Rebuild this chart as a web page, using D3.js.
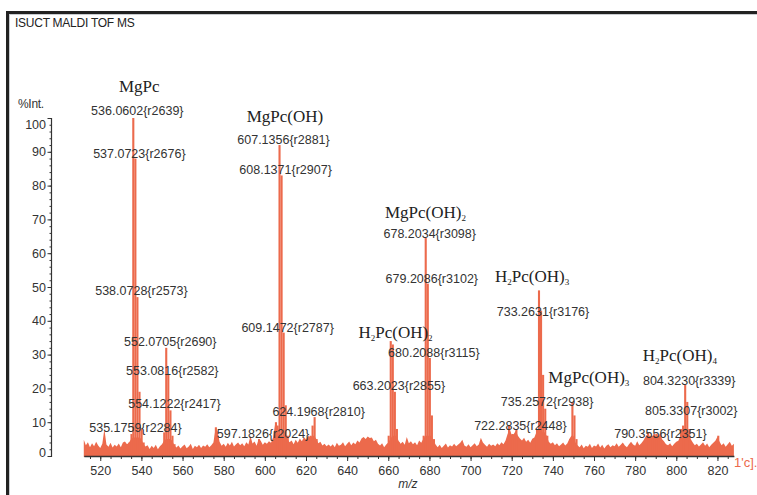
<!DOCTYPE html>
<html>
<head>
<meta charset="utf-8">
<script src="https://cdn.jsdelivr.net/npm/d3@7"></script>
<style>
  html, body { margin: 0; padding: 0; background: #fff; }
  svg { display: block; }
</style>
</head>
<body>
<svg id="chart" width="757" height="495"></svg>
<script>
// ---- spectrum data (m/z, %Int.) ----
// baseline signal, one value per m/z unit starting at noiseStart
const noiseStart = 512;
const noise = [
  4.8,3.2,4.1,2.6,3.8,2.9,4.2,3.1,2.4,3.6,8.0,3.4,2.7,3.9,2.5,3.3,2.8,3.7,2.6,4.0,
  4.3,3.5,4.0,5.0,5.5,5.5,5.5,5.5,5.0,3.5,2.8,3.2,2.1,3.0,2.4,3.3,2.0,2.9,3.5,4.5,
  5.0,5.0,5.0,4.5,3.2,2.5,3.1,2.2,2.9,3.4,2.3,2.8,3.6,2.1,3.0,2.6,3.3,2.4,3.1,2.7,
  3.5,2.6,3.2,4.0,8.0,7.5,4.2,3.0,3.6,2.7,3.9,3.1,4.2,2.8,3.5,4.0,3.2,3.8,2.9,4.1,
  3.4,6.0,3.7,4.3,3.0,5.0,4.5,3.3,4.1,3.6,4.4,3.9,5.5,9.5,9.0,6.0,6.0,6.0,6.0,5.0,
  4.1,4.6,3.5,4.8,3.9,5.2,4.4,5.6,4.9,6.0,5.5,6.0,6.0,5.0,3.8,4.2,3.1,3.6,2.9,3.4,
  2.8,3.5,2.6,3.9,3.0,3.3,4.1,2.9,3.6,4.3,3.2,4.0,3.5,4.6,4.0,5.2,5.6,5.0,5.8,5.3,
  5.5,4.4,4.8,3.6,3.1,3.8,2.6,3.4,4.0,5.0,6.0,6.0,6.0,4.5,3.6,4.2,3.3,5.6,3.8,4.4,
  3.5,4.1,3.2,4.6,3.9,5.0,6.0,6.0,6.0,6.0,4.6,3.4,2.6,3.3,2.4,3.0,3.7,2.5,3.2,2.8,
  3.6,2.9,3.4,3.9,4.8,3.1,2.7,3.5,2.6,3.2,3.8,2.9,3.4,5.4,4.0,3.3,2.7,3.6,3.0,3.4,
  2.9,3.8,3.2,4.1,3.5,4.6,6.5,8.0,6.2,6.5,7.5,6.0,5.2,4.6,5.4,4.2,4.8,3.9,5.1,5.5,
  7.0,7.0,7.0,7.0,7.0,6.0,4.2,3.6,4.1,3.2,3.8,2.9,3.4,4.0,3.1,3.7,5.0,6.0,6.0,4.0,
  3.2,2.6,3.4,2.3,3.0,2.7,3.6,2.4,3.1,2.8,3.7,2.5,3.3,2.2,3.0,3.5,2.6,3.2,2.9,3.8,
  2.7,3.3,4.0,3.1,2.6,3.5,4.2,3.4,3.0,4.4,3.2,3.8,4.6,5.6,6.5,6.0,5.5,6.2,6.0,5.5,
  6.2,5.0,4.4,3.5,3.2,3.8,2.9,3.6,4.2,4.5,6.0,7.5,8.0,8.0,7.0,5.0,4.0,3.2,3.6,2.8,
  3.4,4.1,3.0,3.7,2.6,3.3,3.9,4.5,5.7,4.3,3.2,3.8,2.7,3.5,4.2,3.0,3.6
];

// isotopic peaks
const peakMz = [
  534.2, 535.18, 536.06, 537.07, 538.07, 539.08, 540.1, 541.1,
  551.1, 552.07, 553.08, 554.12, 555.1, 556.1,
  576.2, 597.18,
  605.4, 606.2, 607.14, 608.14, 609.15, 610.15, 611.15,
  622.2, 623.2, 624.2, 625.2,
  660.2, 661.2, 662.2, 663.2, 664.2, 665.2,
  677.2, 678.2, 679.21, 680.21, 681.2, 682.2,
  718.7, 720.3, 722.28,
  732.3, 733.26, 734.26, 735.26, 736.3, 737.3,
  748.5, 749.5, 750.5, 751.5,
  786.3, 788.3, 789.3, 790.36, 791.3, 792.3,
  802.3, 803.3, 804.32, 805.33, 806.3, 807.3,
  820.4
];
const peakInt = [
  4, 6.5, 100, 88, 47, 19, 8, 4,
  7, 32, 24, 13.5, 6, 3.5,
  8.5, 5,
  10, 9, 92, 83, 36.5, 15, 6,
  6, 9, 11.5, 5,
  6, 34, 33, 19, 8, 4,
  6, 64.5, 51, 29, 12, 5,
  9, 6.5, 8,
  8, 49, 43, 24, 14, 6,
  5, 16, 12, 5,
  7, 6, 6.5, 6.5, 6, 6.5,
  8, 9, 21, 16, 8, 4,
  6
];

// peak annotations: m/z, resolution, level of the label baseline (%Int.)
const labelMz = [536.0602, 537.0723, 538.0728, 552.0705, 553.0816, 554.1222, 535.1759,
  597.1826, 607.1356, 608.1371, 609.1472, 624.1968, 678.2034, 679.2086, 680.2088,
  663.2023, 733.2631, 735.2572, 722.2835, 790.3556, 804.3230, 805.3307];
const labelRes = [2639, 2676, 2573, 2690, 2582, 2417, 2284, 2024, 2881, 2907, 2787,
  2810, 3098, 3102, 3115, 2855, 3176, 2938, 2448, 2351, 3339, 3002];
const labelLevel = [101, 88.3, 47.5, 32.4, 24.1, 14.1, 7.2, 5.2, 92.2, 83.3, 36.8,
  11.7, 64.6, 51.3, 29.4, 19.4, 41.3, 14.9, 7.8, 5.2, 21.1, 12.0];

// compound assignments ("_n" marks a subscript digit)
const compoundNames = ["MgPc", "MgPc(OH)", "MgPc(OH)_2", "H_2Pc(OH)_2", "H_2Pc(OH)_3",
  "MgPc(OH)_3", "H_2Pc(OH)_4"];
const compoundMz = [529.1, 591.2, 658.4, 645.5, 711.9, 737.8, 783.7];
const compoundLevel = [107.7, 98.8, 70.4, 34.9, 51.5, 21.6, 28.1];

// axis ticks
const xMajorTicks = d3.range(520, 821, 20);
const xMinorTicks = d3.range(515, 828, 5);
const yMajorTicks = d3.range(0, 101, 10);
const yMinorTicks = d3.range(0, 101, 2);

// ---- drawing ----
const SANS = "'Liberation Sans', Arial, Helvetica, sans-serif";
const SERIF = "'Liberation Serif', 'Times New Roman', serif";
const RED = "#EC6A4C";
const INK = "#333";

const svg = d3.select("#chart");
const x = d3.scaleLinear().domain([512, 828]).range([83.8, 733.9]);
const y = d3.scaleLinear().domain([0, 100]).range([456, 118]);

// window frame
svg.append("line").attr("x1", 6).attr("x2", 757).attr("y1", 12.5).attr("y2", 12.5)
  .attr("stroke", "#222").attr("stroke-width", 3);
svg.append("line").attr("x1", 7.5).attr("x2", 7.5).attr("y1", 11).attr("y2", 495)
  .attr("stroke", "#222").attr("stroke-width", 3);
svg.append("line").attr("x1", 9).attr("x2", 757).attr("y1", 14.5).attr("y2", 14.5)
  .attr("stroke", "#c9ccd0").attr("stroke-width", 1);
svg.append("line").attr("x1", 9.5).attr("x2", 9.5).attr("y1", 14).attr("y2", 495)
  .attr("stroke", "#c9ccd0").attr("stroke-width", 1);

svg.append("text").attr("x", 15).attr("y", 26.5)
  .attr("font-family", SANS).attr("font-size", 12).attr("letter-spacing", -0.25)
  .attr("fill", "#222").text("ISUCT MALDI TOF MS");

svg.append("text").attr("x", 18).attr("y", 108)
  .attr("font-family", SANS).attr("font-size", 12).attr("letter-spacing", -0.3)
  .attr("fill", INK).text("%Int.");

// baseline signal as a filled profile
const noisePts = noise.map((v, i) => ({ mz: noiseStart + i, v }));
svg.append("path").datum(noisePts)
  .attr("fill", RED)
  .attr("d", d3.area().x(d => x(d.mz)).y0(y(0) + 1).y1(d => y(d.v)));

// isotopic peaks
const peaks = peakMz.map((mz, i) => ({ mz, v: peakInt[i] }));
svg.append("g").selectAll("rect").data(peaks).join("rect")
  .attr("x", d => x(d.mz) - 1.05)
  .attr("width", 2.1)
  .attr("y", d => y(d.v))
  .attr("height", d => y(0) + 1 - y(d.v))
  .attr("fill", RED);

// x axis
const gx = svg.append("g").attr("transform", `translate(0,${y(0)})`);
gx.append("g").call(d3.axisBottom(x).tickValues(xMinorTicks).tickSize(3).tickFormat(""))
  .call(g => g.select(".domain").remove());
gx.append("g").call(d3.axisBottom(x).tickValues(xMajorTicks).tickSize(5).tickSizeOuter(0)
  .tickPadding(5).tickFormat(d3.format("d")));
gx.selectAll("line").attr("stroke", INK);
gx.selectAll(".domain").attr("stroke", INK).attr("stroke-width", 1.5);
gx.selectAll("text").attr("font-family", SANS).attr("font-size", 12.5).attr("fill", INK);

// y axis
const gy = svg.append("g").attr("transform", "translate(51,0)");
gy.append("g").call(d3.axisLeft(y).tickValues(yMinorTicks).tickSize(1.5).tickFormat(""))
  .call(g => g.select(".domain").remove());
gy.append("g").call(d3.axisLeft(y).tickValues(yMajorTicks).tickSize(3.5).tickSizeOuter(3)
  .tickPadding(1.5).tickFormat(d3.format("d")));
gy.selectAll("line").attr("stroke", INK);
gy.selectAll(".domain").attr("stroke", INK).attr("stroke-width", 1.2);
gy.selectAll("text").attr("font-family", SANS).attr("font-size", 12.5).attr("fill", INK);
// end labels sit inside the bracket
gy.selectAll(".tick text").filter(d => d === 100).attr("dy", "0.32em").attr("y", 6);
gy.selectAll(".tick text").filter(d => d === 0).attr("y", -4);

// axis title and cut-off marker on the right
svg.append("text").attr("x", x(669.5)).attr("y", 488).attr("text-anchor", "middle")
  .attr("font-family", SANS).attr("font-size", 12).attr("font-style", "italic")
  .attr("fill", INK).text("m/z");
svg.append("text").attr("x", 734).attr("y", 467)
  .attr("font-family", SANS).attr("font-size", 13).attr("fill", RED).text("1'c].");

// peak labels
svg.append("g").selectAll("text").data(labelMz).join("text")
  .attr("x", d => x(d) + 4)
  .attr("y", (d, i) => y(labelLevel[i]))
  .attr("text-anchor", "middle")
  .attr("font-family", SANS).attr("font-size", 12.5).attr("fill", INK)
  .text((d, i) => `${d.toFixed(4)}{r${labelRes[i]}}`);

// compound names
compoundNames.forEach((name, i) => {
  const t = svg.append("text")
    .attr("x", x(compoundMz[i])).attr("y", y(compoundLevel[i]))
    .attr("font-family", SERIF).attr("font-size", 17).attr("fill", "#222");
  const parts = name.split(/(_\d)/).filter(s => s.length);
  let lowered = false;
  parts.forEach(p => {
    if (p.startsWith("_")) {
      t.append("tspan").attr("font-size", 9).attr("dy", lowered ? 0 : 3).text(p.slice(1));
      lowered = true;
    } else {
      t.append("tspan").attr("dy", lowered ? -3 : 0).text(p);
      lowered = false;
    }
  });
});
</script>
</body>
</html>
